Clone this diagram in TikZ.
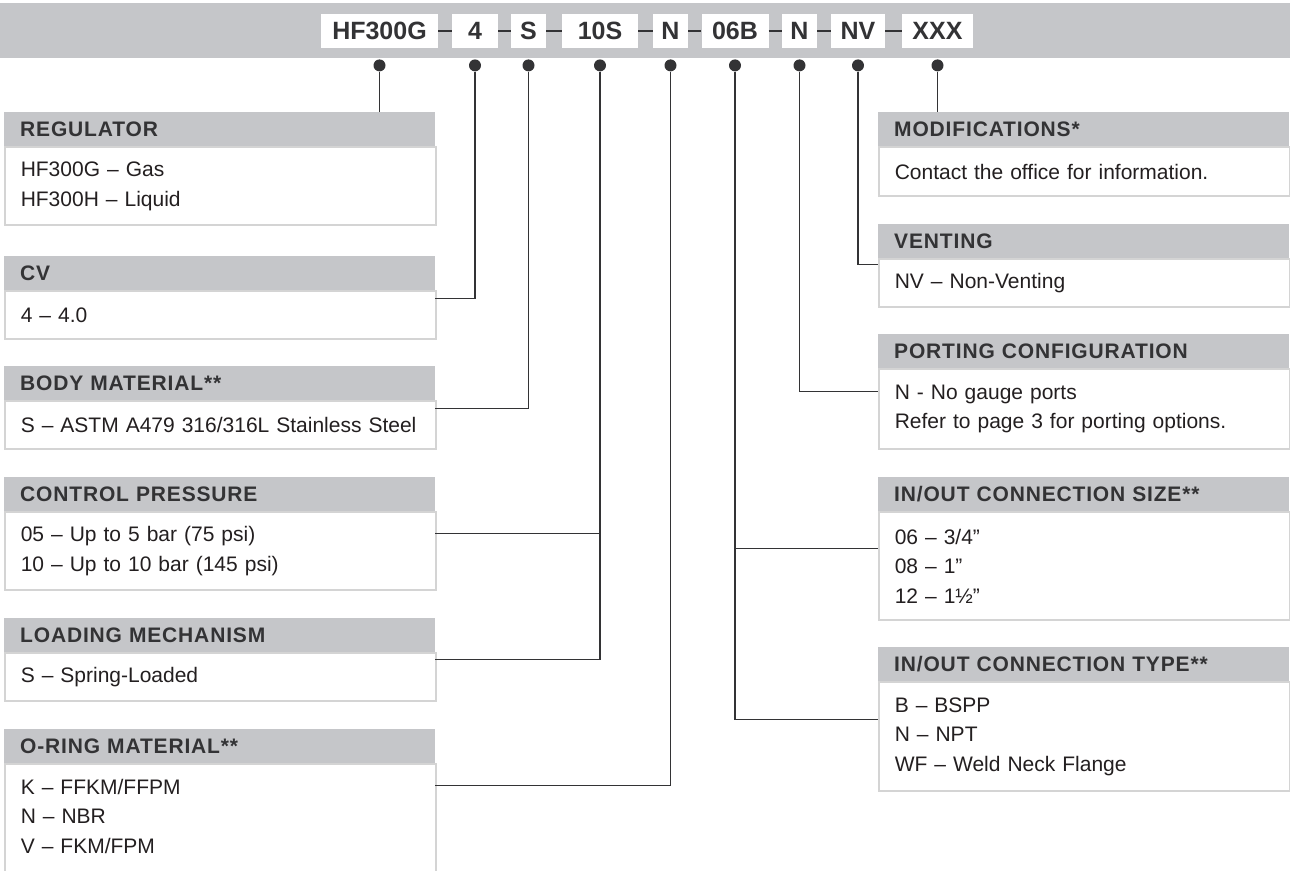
\documentclass[tikz,border=0pt]{standalone}
\usepackage{fontspec}
\setmainfont{Liberation Sans}
\newfontfamily\headfont[LetterSpace=4]{Liberation Sans}
\usetikzlibrary{positioning}

\definecolor{bandgray}{HTML}{C5C6C9}
\definecolor{inkgray}{HTML}{333335}
\definecolor{rimgray}{HTML}{D4D4D4}
\definecolor{textgray}{HTML}{231F20}

\tikzset{
	code/.style={fill=white, minimum height=34pt, inner sep=0pt, text=inkgray,
		font=\bfseries\fontsize{25}{29}\selectfont},
	pin/.style={circle, fill=inkgray, minimum size=12pt, inner sep=0pt},
	head/.style={fill=bandgray, minimum height=34pt, inner xsep=16pt, inner ysep=0pt,
		anchor=north west, align=left, text=inkgray, font=\headfont\bfseries\fontsize{21}{25}\selectfont},
	info/.style={draw=rimgray, line width=1.5pt, fill=white, inner xsep=16pt,
		anchor=north west, align=left, text=textgray, font=\fontsize{21}{29.5}\selectfont},
	link/.style={draw=inkgray, line width=1.3pt},
	dash line/.style={draw=inkgray, line width=2pt}
}

\begin{document}
\begin{tikzpicture}[x=1pt, y=-1pt]
			%\draw[help lines] (0,0) grid[step=100] (1290,870);
			\useasboundingbox (0,0) rectangle (1290,870);
			\clip (0,0) rectangle (1290,870);

			% part number
			\fill[bandgray] (0,3) rectangle (1290,58);

			\node[code, minimum width=117pt] (c1) at (379.5,31) {HF300G};
			\node[code, minimum width=46pt]  (c2) at (475,31)   {4};
			\node[code, minimum width=35pt]  (c3) at (528.5,31) {S};
			\node[code, minimum width=76pt]  (c4) at (600,31)   {10S};
			\node[code, minimum width=35pt]  (c5) at (670.5,31) {N};
			\node[code, minimum width=67pt]  (c6) at (735,31)   {06B};
			\node[code, minimum width=35pt]  (c7) at (799.5,31) {N};
			\node[code, minimum width=54pt]  (c8) at (858,31)   {NV};
			\node[code, minimum width=71pt]  (c9) at (937.5,31) {XXX};

			\foreach \a/\b in {c1/c2,c2/c3,c3/c4,c4/c5,c5/c6,c6/c7,c7/c8,c8/c9}
				\draw[dash line] (\a) -- (\b);

			\foreach \i in {1,...,9}
				\node[pin, below=11pt of c\i] (p\i) {};

			% left column
			\node[head, text width=399pt] (hReg) at (4,112) {REGULATOR};
			\node[info, text width=399pt, minimum height=78pt] (bReg) at (hReg.south west) {HF300G – Gas\\HF300H – Liquid};

			\node[head, text width=399pt] (hCv) at (4,256) {CV};
			\node[info, text width=399pt, minimum height=48pt] (bCv) at (hCv.south west) {4 – 4.0};

			\node[head, text width=399pt] (hBody) at (4,366) {BODY MATERIAL**};
			\node[info, text width=399pt, minimum height=48pt] (bBody) at (hBody.south west) {S – ASTM A479 316/316L Stainless Steel};

			\node[head, text width=399pt] (hCtrl) at (4,477) {CONTROL PRESSURE};
			\node[info, text width=399pt, minimum height=78pt] (bCtrl) at (hCtrl.south west) {05 – Up to 5 bar (75 psi)\\10 – Up to 10 bar (145 psi)};

			\node[head, text width=399pt] (hLoad) at (4,618) {LOADING MECHANISM};
			\node[info, text width=399pt, minimum height=48pt] (bLoad) at (hLoad.south west) {S – Spring-Loaded};

			\node[head, text width=399pt] (hOring) at (4,729) {O-RING MATERIAL**};
			\node[info, text width=399pt, minimum height=133pt] (bOring) at (hOring.south west) {K – FFKM/FFPM\\N – NBR\\V – FKM/FPM\\~};

			% right column
			\node[head, text width=379pt] (hMod) at (878,112) {MODIFICATIONS*};
			\node[info, text width=379pt, minimum height=49pt] (bMod) at (hMod.south west) {Contact the office for information.};

			\node[head, text width=379pt] (hVent) at (878,224) {VENTING};
			\node[info, text width=379pt, minimum height=48pt] (bVent) at (hVent.south west) {NV – Non-Venting};

			\node[head, text width=379pt] (hPort) at (878,334) {PORTING CONFIGURATION};
			\node[info, text width=379pt, minimum height=80pt] (bPort) at (hPort.south west) {N - No gauge ports\\Refer to page 3 for porting options.};

			\node[head, text width=379pt] (hSize) at (878,477) {IN/OUT CONNECTION SIZE**};
			\node[info, text width=379pt, minimum height=108pt] (bSize) at (hSize.south west) {06 – 3/4”\\08 – 1”\\12 – 1½”};

			\node[head, text width=379pt] (hType) at (878,647) {IN/OUT CONNECTION TYPE**};
			\node[info, text width=379pt, minimum height=109pt] (bType) at (hType.south west) {B – BSPP\\N – NPT\\WF – Weld Neck Flange};

			% leaders
			\coordinate (jCtrl) at ([yshift=-22pt]hCtrl.south east);
			\coordinate (jSize) at ([yshift=-37pt]hSize.south west);

			\draw[link] (p1) -- (p1 |- hReg.north);
			\draw[link] (p2) |- ([yshift=-8pt]hCv.south east);
			\draw[link] (p3) |- ([yshift=-8pt]hBody.south east);
			\draw[link] (p4) |- ([yshift=-7pt]hLoad.south east);
			\draw[link] (jCtrl) -- (jCtrl -| p4);
			\draw[link] (p5) |- ([yshift=-22pt]hOring.south east);
			\draw[link] (p6) |- ([yshift=-38pt]hType.south west);
			\draw[link] (jSize) -- (jSize -| p6);
			\draw[link] (p7) |- ([yshift=-23pt]hPort.south west);
			\draw[link] (p8) |- ([yshift=-6pt]hVent.south west);
			\draw[link] (p9) -- (p9 |- hMod.north);
\end{tikzpicture}
\end{document}
